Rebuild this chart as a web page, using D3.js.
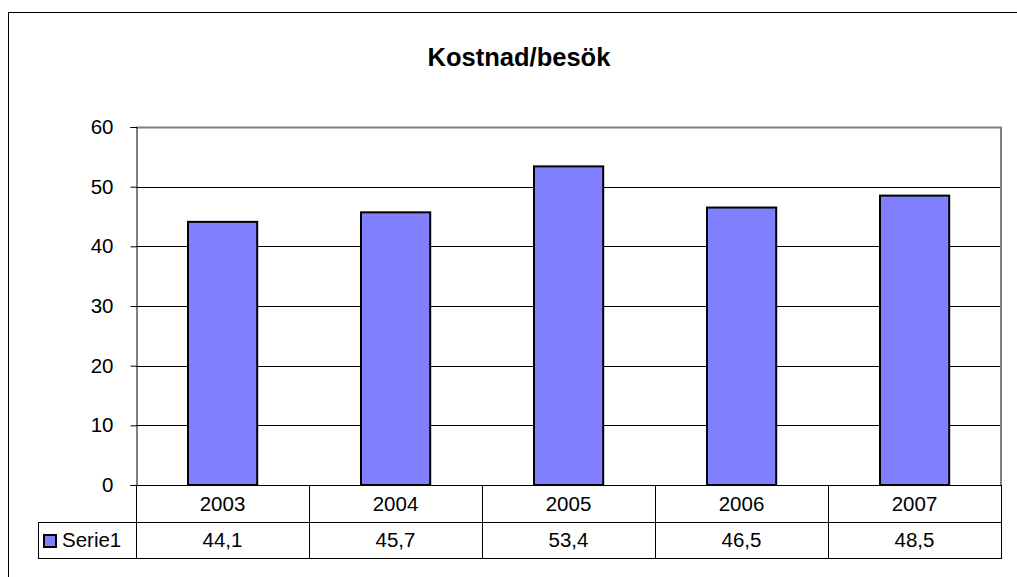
<!DOCTYPE html>
<html>
<head>
<meta charset="utf-8">
<script src="https://cdn.jsdelivr.net/npm/d3@7"></script>
<style>
  body { margin: 0; background: #fff; }
  svg { display: block; font-family: "Liberation Sans", Arial, sans-serif; }
</style>
</head>
<body>
<div id="chart"></div>
<script>
const width = 1017, height = 577;

// chart data
const years = ["2003", "2004", "2005", "2006", "2007"];
const values = [44.1, 45.7, 53.4, 46.5, 48.5];
const yTicks = [0, 10, 20, 30, 40, 50, 60];
const seriesName = "Serie1";
const title = "Kostnad/besök";

const plot = { left: 136, top: 127, right: 1001, bottom: 485 };
const rowH = 36;

const svg = d3.select("#chart").append("svg")
    .attr("width", width)
    .attr("height", height);

// outer chart frame (runs off the right / bottom edges)
svg.append("rect")
    .attr("x", 8.5).attr("y", 12.5)
    .attr("width", width + 20).attr("height", height + 20)
    .attr("fill", "#fff")
    .attr("stroke", "#000")
    .attr("stroke-width", 1);

svg.append("text")
    .attr("x", 519).attr("y", 66)
    .attr("text-anchor", "middle")
    .attr("font-size", 25.5)
    .attr("font-weight", "bold")
    .text(title);

const x = d3.scaleBand()
    .domain(years)
    .range([plot.left, plot.right])
    .paddingInner(0.6)
    .paddingOuter(0.3);

const xCol = d3.scaleBand()
    .domain(years)
    .range([plot.left, plot.right]);

const y = d3.scaleLinear()
    .domain([0, 60])
    .range([plot.bottom, plot.top]);

// gridlines
svg.append("g")
    .selectAll("line")
    .data(yTicks.filter(d => d > 0 && d < 60))
    .join("line")
    .attr("x1", plot.left).attr("x2", plot.right)
    .attr("y1", d => Math.round(y(d)) + 0.5)
    .attr("y2", d => Math.round(y(d)) + 0.5)
    .attr("stroke", "#000")
    .attr("stroke-width", 1);

// plot area border: top and right in gray
svg.append("path")
    .attr("d", `M${plot.left},${plot.top + 0.5}H${plot.right}V${plot.bottom}`)
    .attr("fill", "none")
    .attr("stroke", "#808080")
    .attr("stroke-width", 2);

// bars
svg.append("g")
    .selectAll("rect")
    .data(values)
    .join("rect")
    .attr("x", (d, i) => Math.round(x(years[i])))
    .attr("y", d => y(d))
    .attr("width", x.bandwidth())
    .attr("height", d => plot.bottom - y(d))
    .attr("fill", "#8080ff")
    .attr("stroke", "#000")
    .attr("stroke-width", 2);

// y axis
const yAxis = svg.append("g")
    .attr("transform", `translate(${plot.left + 0.5},0)`)
    .call(d3.axisLeft(y).tickValues(yTicks).tickSize(6).tickPadding(17));
yAxis.select(".domain").attr("stroke", "#000");
yAxis.selectAll("text")
    .attr("font-size", 20.5)
    .attr("font-family", "Liberation Sans, Arial, sans-serif")
    .attr("fill", "#000");

// data table under the plot
const table = svg.append("g");
const tLeft = 38;
const r1 = plot.bottom, r2 = plot.bottom + rowH + 1, r3 = plot.bottom + 2 * rowH + 1;

table.append("line")
    .attr("x1", plot.left).attr("x2", plot.right)
    .attr("y1", r1 + 0.5).attr("y2", r1 + 0.5)
    .attr("stroke", "#000");
table.append("line")
    .attr("x1", tLeft).attr("x2", plot.right)
    .attr("y1", r2 + 0.5).attr("y2", r2 + 0.5)
    .attr("stroke", "#000");
table.append("line")
    .attr("x1", tLeft).attr("x2", plot.right)
    .attr("y1", r3 + 0.5).attr("y2", r3 + 0.5)
    .attr("stroke", "#000");
table.append("line")
    .attr("x1", tLeft + 0.5).attr("x2", tLeft + 0.5)
    .attr("y1", r2).attr("y2", r3)
    .attr("stroke", "#000");

const colEdges = years.map(d => xCol(d)).concat([plot.right]);
table.selectAll(".col")
    .data(colEdges)
    .join("line")
    .attr("class", "col")
    .attr("x1", d => Math.round(d) + 0.5).attr("x2", d => Math.round(d) + 0.5)
    .attr("y1", r1).attr("y2", r3 + 1)
    .attr("stroke", "#000");

table.selectAll(".year")
    .data(years)
    .join("text")
    .attr("class", "year")
    .attr("x", d => xCol(d) + xCol.bandwidth() / 2)
    .attr("y", r1 + 26)
    .attr("text-anchor", "middle")
    .attr("font-size", 20.5)
    .text(d => d);

table.selectAll(".val")
    .data(values)
    .join("text")
    .attr("class", "val")
    .attr("x", (d, i) => xCol(years[i]) + xCol.bandwidth() / 2)
    .attr("y", r2 + 25)
    .attr("text-anchor", "middle")
    .attr("font-size", 20.5)
    .text(d => d.toFixed(1).replace(".", ","));

// legend key
table.append("rect")
    .attr("x", 44).attr("y", r2 + 13)
    .attr("width", 12).attr("height", 12)
    .attr("fill", "#8080ff")
    .attr("stroke", "#000")
    .attr("stroke-width", 2);
table.append("text")
    .attr("x", 62).attr("y", r2 + 25)
    .attr("font-size", 20.5)
    .text(seriesName);
</script>
</body>
</html>
